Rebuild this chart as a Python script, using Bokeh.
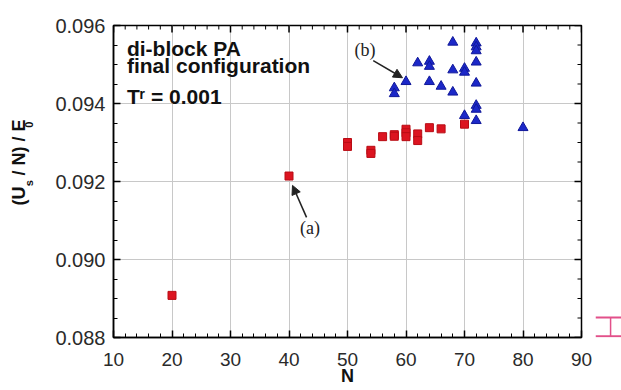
import numpy as np
from bokeh.plotting import figure
from bokeh.models import (Range1d, SingleIntervalTicker, NumeralTickFormatter,
                          Label, Arrow, NormalHead)
from bokeh.layouts import row
from bokeh.embed import file_html
from bokeh.resources import INLINE

# ---- data ----
red_N = [20, 40, 50, 50, 54, 54, 56, 58, 58, 60, 60, 60, 62, 62, 64, 66, 70]
red_U = [0.08908, 0.09214, 0.09300, 0.09290, 0.09280, 0.09272, 0.09315, 0.09320, 0.09316,
         0.09334, 0.09325, 0.09315, 0.09322, 0.09305, 0.09338, 0.09335, 0.09347]

blue_N = [58, 58, 60, 62, 64, 64, 64, 66, 68, 68, 68, 70, 70, 70,
          72, 72, 72, 72, 72, 72, 72, 72, 80]
blue_U = [0.09440, 0.09425, 0.09456, 0.09504, 0.09508, 0.09495, 0.09456, 0.09444,
          0.09557, 0.09486, 0.09429, 0.09490, 0.09480, 0.09369,
          0.09555, 0.09545, 0.09535, 0.09506, 0.09452, 0.09395, 0.09385, 0.09356, 0.09338]

x_start, x_end, x_major, x_minor = 10, 90, 10, 2
y_start, y_end, y_major, y_minor = 0.088, 0.096, 0.002, 0.0005

info_lines = ["di-block PA", "final configuration", "T\u02b3 = 0.001"]
info_x = 12.3
info_y = [0.09542, 0.09497, 0.09418]

ann_text = ["(a)", "(b)"]
ann_x = [43.6, 53.0]
ann_y = [0.09082, 0.09536]
arrow_tail_x = [43.0, 54.4]
arrow_tail_y = [0.09108, 0.09510]
arrow_head_x = [40.6, 59.4]
arrow_head_y = [0.09190, 0.09466]

# y-axis title pieces: (text, is_subscript); non-breaking spaces keep SVG from collapsing them
NB = "\u00a0"
ytitle_parts = [("(U", False), ("s", True), (f"{NB}/{NB}N){NB}/{NB}E", False), ("0", True)]

ibeam_y = [0.08803, 0.08851]

FONT = "Liberation Sans"
H = 390
TOP, BOTTOM = 25, 53
TITLE_W = 40          # left strip holding the rotated y title
LEFT = 113 - TITLE_W  # remaining left border of the main plot

# ---- left strip with the y-axis title ----
t = figure(width=TITLE_W, height=H, output_backend="svg", toolbar_location=None,
           x_range=Range1d(0, TITLE_W), y_range=Range1d(0, H),
           min_border_left=0, min_border_right=0, min_border_top=0, min_border_bottom=0)
t.axis.visible = False
t.grid.visible = False
t.outline_line_color = None
ARIAL_BOLD = {"(": 333, ")": 333, "U": 722, "s": 556, NB: 278, "/": 278, "N": 722,
              "E": 667, "0": 556}
MAIN_PX, SUB_PX = 18, 11
pos = H - 225.0
for txt, sub in ytitle_parts:
    fs = SUB_PX if sub else MAIN_PX
    t.add_layout(Label(x=28 if sub else 18, y=pos, angle=np.pi / 2,
                       text=txt, text_font=FONT, text_font_style="bold",
                       text_font_size=f"{fs}px", text_baseline="middle", text_align="left",
                       text_color="#111111"))
    pos += sum(ARIAL_BOLD[c] for c in txt) / 1000 * fs + (1 if sub else 5)

# ---- main plot ----
p = figure(width=595 - TITLE_W, height=H, output_backend="svg", toolbar_location=None,
           x_range=Range1d(x_start, x_end), y_range=Range1d(y_start, y_end),
           min_border_left=LEFT, min_border_right=14, min_border_top=TOP, min_border_bottom=BOTTOM,
           x_axis_label="N")
p.outline_line_color = "black"
p.outline_line_width = 1.5
p.background_fill_color = "white"
p.border_fill_color = "white"

xt = SingleIntervalTicker(interval=x_major, num_minor_ticks=x_major // x_minor)
yt = SingleIntervalTicker(interval=y_major, num_minor_ticks=4)
p.xaxis.ticker = xt
p.yaxis.ticker = yt
p.yaxis.formatter = NumeralTickFormatter(format="0.000")
p.xgrid.ticker = xt
p.ygrid.ticker = yt
p.grid.grid_line_color = "#c8c8c8"
p.grid.grid_line_width = 1

for ax in (p.xaxis[0], p.yaxis[0]):
    ax.axis_line_color = "black"
    ax.axis_line_width = 1.5
    ax.major_tick_in = 7
    ax.major_tick_out = 0
    ax.minor_tick_in = 4
    ax.minor_tick_out = 0
    ax.major_tick_line_width = 1.5
    ax.minor_tick_line_width = 1
    ax.major_label_text_font = FONT
    ax.major_label_text_color = "#2a2a2a"
    ax.axis_label_text_font = FONT
    ax.axis_label_text_font_style = "bold"
    ax.axis_label_text_color = "#111111"

p.xaxis.major_label_text_font_size = "19px"
p.yaxis.major_label_text_font_size = "20px"
p.xaxis.major_label_standoff = 15
p.yaxis.major_label_standoff = 8
p.xaxis.axis_label_text_font_size = "18px"
p.xaxis.axis_label_standoff = -3

# mirrored inward ticks on the top and right frame edges (half of each dash is clipped)
xmaj = np.arange(x_start, x_end + 1e-9, x_major)
xmin = np.array([v for v in np.arange(x_start, x_end + 1e-9, x_minor) if not np.isclose(v % x_major, 0)])
ymaj = np.arange(y_start, y_end + 1e-12, y_major)
ymin = np.array([v for v in np.arange(y_start, y_end + 1e-12, y_minor)
                 if min(abs(v - m) for m in ymaj) > 1e-7])
p.scatter(xmaj, [y_end] * len(xmaj), marker="dash", angle=np.pi / 2, size=14,
          line_color="black", line_width=1.5)
p.scatter(xmin, [y_end] * len(xmin), marker="dash", angle=np.pi / 2, size=8,
          line_color="black", line_width=1)
p.scatter([x_end] * len(ymaj), ymaj, marker="dash", size=14, line_color="black", line_width=1.5)
p.scatter([x_end] * len(ymin), ymin, marker="dash", size=8, line_color="black", line_width=1)

p.scatter(red_N, red_U, marker="square", size=8, color="#dc1420", line_color="#b80c14")
p.scatter(blue_N, blue_U, marker="triangle", size=10, color="#1c28c8", line_color="#10189a")

for txt, yy in zip(info_lines, info_y):
    p.add_layout(Label(x=info_x, y=yy, text=txt, text_font=FONT, text_font_style="bold",
                       text_font_size="21px", text_baseline="middle", text_align="left",
                       text_color="#111111"))

for txt, xx, yy in zip(ann_text, ann_x, ann_y):
    p.add_layout(Label(x=xx, y=yy, text=txt, text_font="Liberation Serif",
                       text_font_size="18px", text_baseline="middle", text_align="center",
                       text_color="#222222"))

for tx, ty, hx, hy in zip(arrow_tail_x, arrow_tail_y, arrow_head_x, arrow_head_y):
    p.add_layout(Arrow(x_start=tx, y_start=ty, x_end=hx, y_end=hy, line_width=1.5,
                       line_color="#222222",
                       end=NormalHead(size=9, fill_color="#222222", line_color="#222222")))

# ---- small pink I-beam mark at the right edge ----
q = figure(width=26, height=H, output_backend="svg", toolbar_location=None,
           x_range=Range1d(0, 1), y_range=Range1d(y_start, y_end),
           min_border_left=0, min_border_right=0, min_border_top=TOP, min_border_bottom=BOTTOM)
q.axis.visible = False
q.grid.visible = False
q.outline_line_color = None
q.segment(x0=[0, 0], y0=ibeam_y, x1=[1, 1], y1=ibeam_y, line_color="#e2508a", line_width=2)
q.segment(x0=[0.58], y0=[ibeam_y[0]], x1=[0.58], y1=[ibeam_y[1]], line_color="#e2508a", line_width=1.5)

layout = row(t, p, q)
open("out.html", "w").write(file_html(layout, INLINE))
